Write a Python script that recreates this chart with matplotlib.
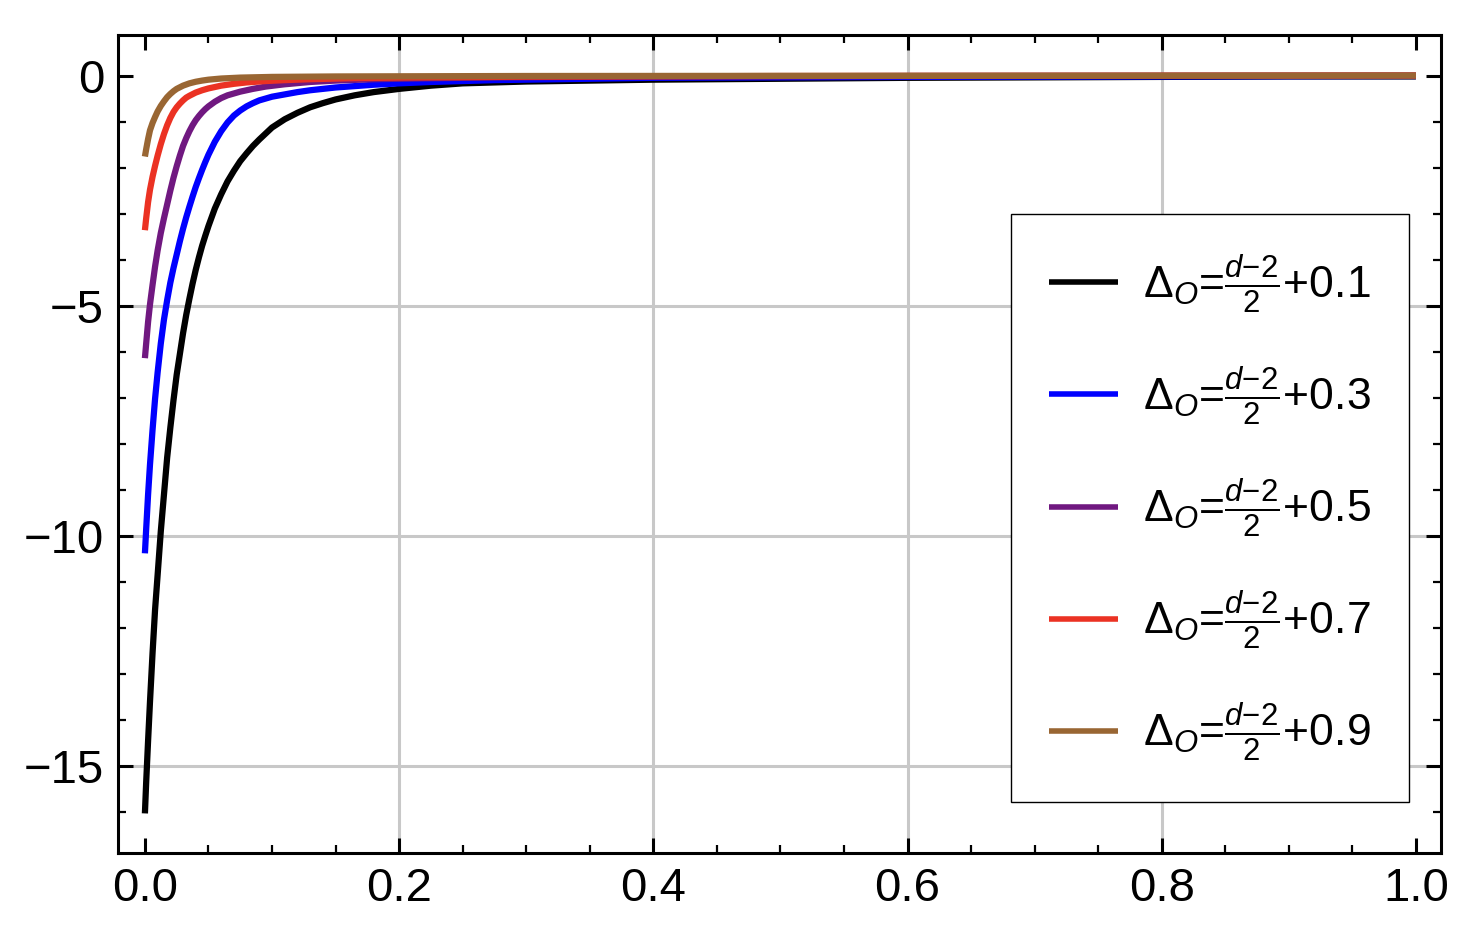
import matplotlib
matplotlib.use("Agg")
import matplotlib.pyplot as plt
from matplotlib.ticker import MultipleLocator, FormatStrFormatter

# values (dense near the bend so the curves look smooth)
X_BLACK = [0, 0.001, 0.0025, 0.004, 0.006, 0.008, 0.010, 0.0125, 0.015, 0.0175, 0.020, 0.0225,
           0.025, 0.0275, 0.030, 0.0325, 0.035, 0.0375, 0.040, 0.0425, 0.045, 0.0475, 0.050,
           0.055, 0.060, 0.065, 0.070, 0.075, 0.080, 0.085, 0.090, 0.095, 0.100, 0.110, 0.120,
           0.130, 0.140, 0.150, 0.165, 0.180, 0.200, 0.225, 0.250, 0.275, 0.300, 0.350, 0.400,
           0.450, 0.500, 0.600, 0.700, 0.800, 0.900, 1.000]
Y_BLACK = [-16.03, -15.35, -14.45, -13.6, -12.55, -11.6, -10.85, -9.9, -9.1, -8.3, -7.65, -7.05,
           -6.5, -6.05, -5.6, -5.2, -4.85, -4.52, -4.22, -3.95, -3.7, -3.48, -3.27,
           -2.89, -2.58, -2.3, -2.07, -1.86, -1.69, -1.53, -1.39, -1.26, -1.13, -0.95, -0.81,
           -0.69, -0.60, -0.52, -0.43, -0.36, -0.29, -0.22, -0.17, -0.15, -0.13, -0.11, -0.09,
           -0.08, -0.07, -0.05, -0.04, -0.03, -0.02, -0.02]

X_BLUE = [0, 0.001, 0.0025, 0.004, 0.006, 0.008, 0.010, 0.0125, 0.015, 0.0175, 0.020, 0.0225,
          0.025, 0.0275, 0.030, 0.0325, 0.035, 0.0375, 0.040, 0.0425, 0.045, 0.0475, 0.050,
          0.055, 0.060, 0.065, 0.070, 0.075, 0.080, 0.085, 0.090, 0.095, 0.100, 0.110, 0.120,
          0.130, 0.140, 0.150, 0.165, 0.180, 0.200, 0.225, 0.250, 0.275, 0.300, 0.350, 0.400,
          0.500, 0.600, 0.800, 1.000]
Y_BLUE = [-10.38, -9.85, -9.1, -8.45, -7.7, -7.02, -6.45, -5.82, -5.3, -4.88, -4.5, -4.18,
          -3.89, -3.60, -3.33, -3.08, -2.85, -2.63, -2.42, -2.23, -2.05, -1.88, -1.72,
          -1.44, -1.21, -1.02, -0.87, -0.76, -0.67, -0.60, -0.54, -0.50, -0.46, -0.41, -0.36,
          -0.32, -0.29, -0.26, -0.23, -0.20, -0.17, -0.14, -0.12, -0.10, -0.09, -0.07, -0.05,
          -0.04, -0.03, -0.02, -0.01]

X_PURPLE = [0, 0.001, 0.0025, 0.004, 0.006, 0.008, 0.010, 0.0125, 0.015, 0.0175, 0.020, 0.0225,
            0.025, 0.0275, 0.030, 0.0325, 0.035, 0.0375, 0.040, 0.0425, 0.045, 0.0475, 0.050,
            0.055, 0.060, 0.065, 0.070, 0.075, 0.085, 0.095, 0.110, 0.130, 0.150, 0.180, 0.220,
            0.280, 0.400, 0.600, 1.000]
Y_PURPLE = [-6.14, -5.82, -5.35, -4.97, -4.55, -4.15, -3.8, -3.42, -3.1, -2.8, -2.5, -2.22,
            -1.97, -1.74, -1.53, -1.36, -1.21, -1.08, -0.97, -0.88, -0.80, -0.73, -0.67,
            -0.57, -0.49, -0.43, -0.39, -0.35, -0.29, -0.24, -0.19, -0.14, -0.11, -0.08, -0.06,
            -0.04, -0.02, -0.01, 0.0]

X_RED = [0, 0.001, 0.0025, 0.004, 0.006, 0.008, 0.010, 0.0125, 0.015, 0.0175, 0.020, 0.0225,
         0.025, 0.0275, 0.030, 0.0325, 0.035, 0.040, 0.045, 0.050, 0.060, 0.070, 0.080, 0.095,
         0.110, 0.130, 0.160, 0.200, 0.300, 0.500, 1.000]
Y_RED = [-3.36, -3.1, -2.75, -2.48, -2.2, -1.96, -1.74, -1.49, -1.27, -1.08, -0.92, -0.79,
         -0.69, -0.61, -0.54, -0.48, -0.44, -0.37, -0.32, -0.28, -0.22, -0.18, -0.15, -0.12,
         -0.10, -0.08, -0.06, -0.045, -0.025, -0.01, 0.0]

X_BROWN = [0, 0.001, 0.0025, 0.004, 0.006, 0.008, 0.010, 0.0125, 0.015, 0.0175, 0.020, 0.0225,
           0.025, 0.030, 0.035, 0.040, 0.045, 0.050, 0.060, 0.075, 0.100, 0.150, 0.300, 1.000]
Y_BROWN = [-1.76, -1.6, -1.38, -1.19, -1.03, -0.9, -0.78, -0.66, -0.56, -0.47, -0.40, -0.34,
           -0.29, -0.22, -0.17, -0.135, -0.11, -0.09, -0.065, -0.045, -0.03, -0.02, -0.01, 0.0]

SHIFTS = ["0.1", "0.3", "0.5", "0.7", "0.9"]
COLORS = ["#000000", "#0000FF", "#701880", "#EB3223", "#996633"]

X_TICKS = [0.0, 0.2, 0.4, 0.6, 0.8, 1.0]
Y_TICKS = [-15, -10, -5, 0]
GRID_X = [0.2, 0.4, 0.6, 0.8]
GRID_Y = [-15, -10, -5]

plt.rcParams["font.family"] = ["Liberation Sans", "DejaVu Sans"]
plt.rcParams["mathtext.fontset"] = "custom"
plt.rcParams["mathtext.rm"] = "Liberation Sans"
plt.rcParams["mathtext.it"] = "Liberation Sans:italic"
plt.rcParams["mathtext.sf"] = "Liberation Sans"

fig = plt.figure(figsize=(14.82, 9.44), dpi=100)
ax = fig.add_axes([0.0796, 0.0964, 0.8927, 0.8665])

for gx in GRID_X:
    ax.axvline(gx, color="#c8c8c8", lw=2.2, zorder=0)
for gy in GRID_Y:
    ax.axhline(gy, color="#c8c8c8", lw=2.2, zorder=0)

series = [(X_BLACK, Y_BLACK), (X_BLUE, Y_BLUE), (X_PURPLE, Y_PURPLE),
          (X_RED, Y_RED), (X_BROWN, Y_BROWN)]
for (xs, ys), c, s in zip(series, COLORS, SHIFTS):
    label = r"$\Delta_O$=$\frac{d{-}2}{2}$+" + s
    ax.plot(xs, ys, color=c, lw=4.5, solid_capstyle="butt",
            solid_joinstyle="round", label=label, zorder=3)

ax.set_xlim(-0.0212, 1.0197)
ax.set_ylim(-16.89, 0.88)
ax.set_xticks(X_TICKS)
ax.set_yticks(Y_TICKS)
ax.xaxis.set_major_formatter(FormatStrFormatter("%.1f"))
ax.xaxis.set_minor_locator(MultipleLocator(0.05))
ax.yaxis.set_minor_locator(MultipleLocator(1))
ax.tick_params(which="both", direction="in", top=True, right=True, labelsize=34, pad=10)
ax.tick_params(which="major", length=11, width=2.2)
ax.tick_params(which="minor", length=6, width=1.6)
for sp in ax.spines.values():
    sp.set_linewidth(2.2)

leg = ax.legend(loc="upper left", bbox_to_anchor=(0.675, 0.781), fontsize=32,
                frameon=True, fancybox=False, framealpha=1, edgecolor="black",
                handlelength=1.55, handletextpad=0.55, borderpad=0.86,
                labelspacing=1.1, borderaxespad=0)
leg.get_frame().set_linewidth(1.0)
for h in leg.get_lines():
    h.set_linewidth(4.0)
leg.set_zorder(5)

fig.savefig("out.png", dpi=100)
